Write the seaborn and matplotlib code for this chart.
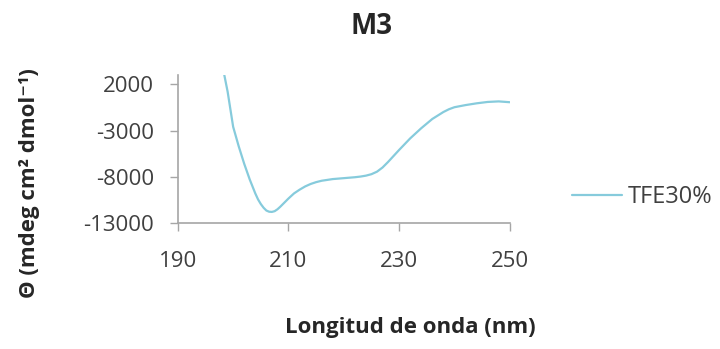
import numpy as np
import pandas as pd
import matplotlib
matplotlib.use("Agg")
import matplotlib.pyplot as plt
import seaborn as sns

# values
wavelength = [198.4, 199, 200, 201, 202, 203, 204, 204.5, 205, 205.5, 206, 206.5,
              207, 207.5, 208, 208.5, 209, 209.5, 210, 211, 212, 213, 214, 215,
              216, 218, 220, 222, 223, 224, 225, 226, 227, 228, 229, 230, 232,
              234, 236, 238, 239, 240, 242, 244, 246, 248, 250]
theta = [3000, 1200, -2600, -4700, -6600, -8300, -9800, -10450, -10950, -11350,
         -11650, -11780, -11800, -11720, -11520, -11250, -10950, -10650, -10350,
         -9800, -9400, -9050, -8780, -8580, -8430, -8250, -8150, -8050, -7980,
         -7880, -7720, -7450, -7000, -6400, -5750, -5100, -3850, -2750, -1750,
         -1000, -700, -480, -250, -60, 90, 150, 60]
series_name = "TFE30%"
x_ticks = [190, 210, 230, 250]
y_ticks = [2000, -3000, -8000, -13000]

df = pd.DataFrame({"nm": wavelength, "theta": theta, "serie": series_name})

sns.set_style("white")
plt.rcParams["font.family"] = ["Open Sans", "DejaVu Sans"]
plt.rcParams["axes.unicode_minus"] = False

fig = plt.figure(figsize=(7.2, 3.49), dpi=100)
ax = fig.add_axes([0.247, 0.361, 0.461, 0.424])

sns.lineplot(data=df, x="nm", y="theta", hue="serie", palette=["#86cbdc"],
             linewidth=1.6, ax=ax, sort=False)
ax.lines[0].set_solid_joinstyle("round")

ax.set_xlim(190, 250)
ax.set_ylim(-13000, 3000)
ax.set_xticks(x_ticks)
ax.set_yticks(y_ticks)
ax.tick_params(axis="both", direction="out", length=6, width=1, color="#a6a6a6",
               labelsize=16, labelcolor="#404040", left=True, bottom=True, pad=11)
ax.tick_params(axis="x", pad=14)
for side in ["top", "right"]:
    ax.spines[side].set_visible(False)
for side in ["left", "bottom"]:
    ax.spines[side].set_color("#a6a6a6")
    ax.spines[side].set_linewidth(1.2)

ax.set_xlabel("Longitud de onda (nm)", fontsize=16, fontweight="bold", color="#262626")
ax.set_ylabel("Θ (mdeg cm² dmol⁻¹)", fontsize=16, fontweight="bold", color="#262626")
ax.xaxis.set_label_coords(0.70, -0.635)
ax.yaxis.set_label_coords(-0.415, 0.27)
ax.text(0.584, 1.33, "M3", transform=ax.transAxes, ha="center", va="center",
        fontsize=20, fontweight="bold", color="#262626")

leg = ax.legend(loc="center left", bbox_to_anchor=(0.765, 0.436),
                bbox_transform=fig.transFigure, frameon=False, fontsize=17,
                handlelength=2.1, handletextpad=0.25)
for t in leg.get_texts():
    t.set_color("#404040")

fig.savefig("out.png", dpi=100)
